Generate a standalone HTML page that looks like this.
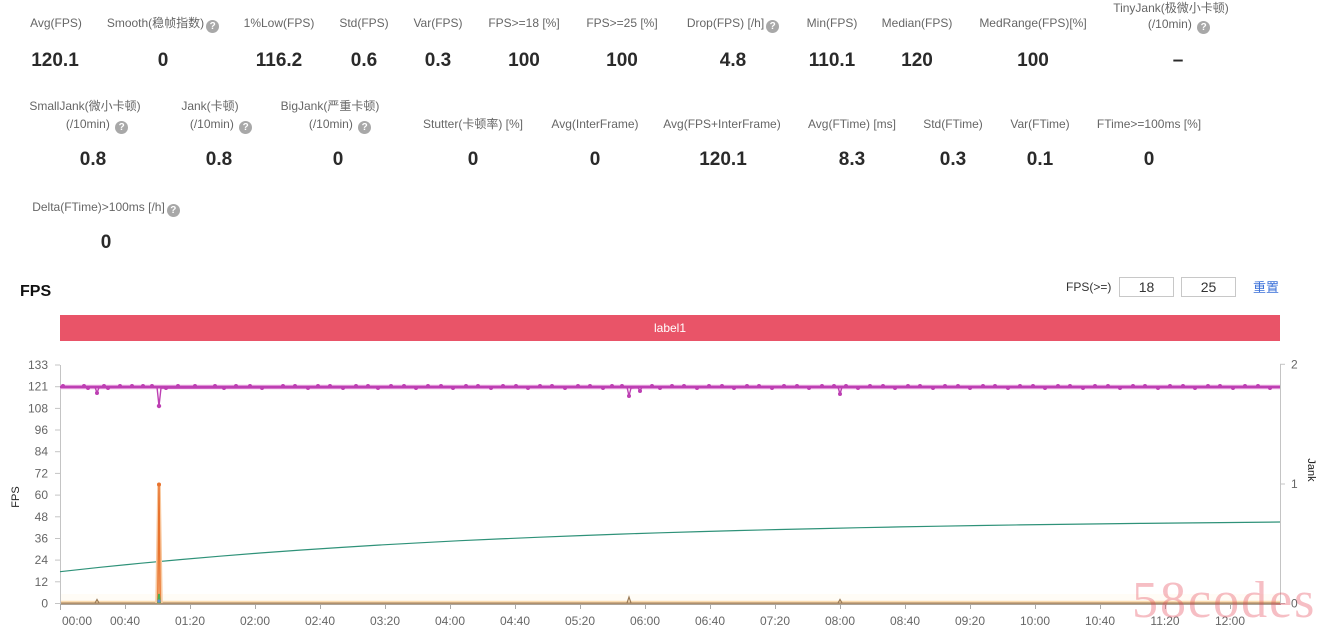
<!DOCTYPE html>
<html><head><meta charset="utf-8">
<style>
html,body{margin:0;padding:0;background:#fff;}
body{width:1331px;height:631px;position:relative;overflow:hidden;font-family:"Liberation Sans","Noto Sans CJK SC",sans-serif;}
.l{position:absolute;width:240px;margin-left:-120px;text-align:center;font-size:12px;line-height:16px;color:#666;white-space:nowrap;}
.v{position:absolute;width:200px;margin-left:-100px;text-align:center;font-size:19px;line-height:24px;color:#2a2a2a;font-weight:bold;white-space:nowrap;}
.q{display:inline-block;width:13px;height:13px;border-radius:50%;background:#a8a8a8;color:#fff;font-size:10px;line-height:13px;text-align:center;font-weight:bold;vertical-align:-2px;margin-left:2px;}
.box{position:absolute;top:277px;height:18px;width:53px;border:1px solid #c8c8c8;text-align:center;font-size:14px;line-height:18px;color:#333;}
</style></head><body>

<!-- Row 1 -->
<div class="l" style="left:56px;top:15px">Avg(FPS)</div>
<div class="l" style="left:163px;top:15px">Smooth(稳帧指数)<span class="q">?</span></div>
<div class="l" style="left:279px;top:15px">1%Low(FPS)</div>
<div class="l" style="left:364px;top:15px">Std(FPS)</div>
<div class="l" style="left:438px;top:15px">Var(FPS)</div>
<div class="l" style="left:524px;top:15px">FPS&gt;=18 [%]</div>
<div class="l" style="left:622px;top:15px">FPS&gt;=25 [%]</div>
<div class="l" style="left:733px;top:15px">Drop(FPS) [/h]<span class="q">?</span></div>
<div class="l" style="left:832px;top:15px">Min(FPS)</div>
<div class="l" style="left:917px;top:15px">Median(FPS)</div>
<div class="l" style="left:1033px;top:15px">MedRange(FPS)[%]</div>
<div class="l" style="left:1171px;top:0px">TinyJank(极微小卡顿)</div>
<div class="l" style="left:1179px;top:16px">(/10min) <span class="q">?</span></div>

<div class="v" style="left:55px;top:49px">120.1</div>
<div class="v" style="left:163px;top:49px">0</div>
<div class="v" style="left:279px;top:49px">116.2</div>
<div class="v" style="left:364px;top:49px">0.6</div>
<div class="v" style="left:438px;top:49px">0.3</div>
<div class="v" style="left:524px;top:49px">100</div>
<div class="v" style="left:622px;top:49px">100</div>
<div class="v" style="left:733px;top:49px">4.8</div>
<div class="v" style="left:832px;top:49px">110.1</div>
<div class="v" style="left:917px;top:49px">120</div>
<div class="v" style="left:1033px;top:49px">100</div>
<div class="v" style="left:1178px;top:49px">–</div>

<!-- Row 2 -->
<div class="l" style="left:85px;top:98px">SmallJank(微小卡顿)</div>
<div class="l" style="left:97px;top:116px">(/10min) <span class="q">?</span></div>
<div class="l" style="left:210px;top:98px">Jank(卡顿)</div>
<div class="l" style="left:221px;top:116px">(/10min) <span class="q">?</span></div>
<div class="l" style="left:330px;top:98px">BigJank(严重卡顿)</div>
<div class="l" style="left:340px;top:116px">(/10min) <span class="q">?</span></div>
<div class="l" style="left:473px;top:116px">Stutter(卡顿率) [%]</div>
<div class="l" style="left:595px;top:116px">Avg(InterFrame)</div>
<div class="l" style="left:722px;top:116px">Avg(FPS+InterFrame)</div>
<div class="l" style="left:852px;top:116px">Avg(FTime) [ms]</div>
<div class="l" style="left:953px;top:116px">Std(FTime)</div>
<div class="l" style="left:1040px;top:116px">Var(FTime)</div>
<div class="l" style="left:1149px;top:116px">FTime&gt;=100ms [%]</div>

<div class="v" style="left:93px;top:148px">0.8</div>
<div class="v" style="left:219px;top:148px">0.8</div>
<div class="v" style="left:338px;top:148px">0</div>
<div class="v" style="left:473px;top:148px">0</div>
<div class="v" style="left:595px;top:148px">0</div>
<div class="v" style="left:723px;top:148px">120.1</div>
<div class="v" style="left:852px;top:148px">8.3</div>
<div class="v" style="left:953px;top:148px">0.3</div>
<div class="v" style="left:1040px;top:148px">0.1</div>
<div class="v" style="left:1149px;top:148px">0</div>

<!-- Row 3 -->
<div class="l" style="left:106px;top:199px">Delta(FTime)&gt;100ms [/h]<span class="q">?</span></div>
<div class="v" style="left:106px;top:231px">0</div>

<!-- FPS title & controls -->
<div style="position:absolute;left:20px;top:282px;font-size:16px;line-height:20px;font-weight:bold;color:#111;">FPS</div>
<div style="position:absolute;left:1066px;top:280px;font-size:12px;line-height:14px;color:#333;">FPS(&gt;=)</div>
<div class="box" style="left:1119px;">18</div>
<div class="box" style="left:1181px;">25</div>
<div style="position:absolute;left:1253px;top:279px;font-size:13px;line-height:16px;color:#3a6fd8;font-family:'Noto Sans CJK SC',sans-serif;">重置</div>

<svg width="1331" height="631" style="position:absolute;left:0;top:0" xmlns="http://www.w3.org/2000/svg">
  <!-- label bar -->
  <rect x="60" y="315" width="1220" height="26" fill="#e95468"/>
  <text x="670" y="332" font-size="12" fill="#fff" text-anchor="middle" font-family="Liberation Sans, sans-serif">label1</text>

  <!-- axes -->
  <g stroke="#c4c4c4" stroke-width="1" fill="none">
    <line x1="60.5" y1="365" x2="60.5" y2="604"/>
    <line x1="1280.5" y1="364" x2="1280.5" y2="604"/>
    <line x1="60" y1="604.5" x2="1281" y2="604.5" stroke="#aaa"/>
  </g>
  <!-- left ticks -->
  <g stroke="#c4c4c4" stroke-width="1">
    <line x1="55" y1="603.5" x2="60" y2="603.5"/>
    <line x1="55" y1="581.8" x2="60" y2="581.8"/>
    <line x1="55" y1="560.1" x2="60" y2="560.1"/>
    <line x1="55" y1="538.5" x2="60" y2="538.5"/>
    <line x1="55" y1="516.8" x2="60" y2="516.8"/>
    <line x1="55" y1="495.1" x2="60" y2="495.1"/>
    <line x1="55" y1="473.4" x2="60" y2="473.4"/>
    <line x1="55" y1="451.7" x2="60" y2="451.7"/>
    <line x1="55" y1="430.0" x2="60" y2="430.0"/>
    <line x1="55" y1="408.4" x2="60" y2="408.4"/>
    <line x1="55" y1="386.7" x2="60" y2="386.7"/>
    <line x1="55" y1="365.0" x2="60" y2="365.0"/>
    <line x1="1280" y1="364.3" x2="1285" y2="364.3"/>
    <line x1="1280" y1="484" x2="1285" y2="484"/>
    <line x1="1280" y1="603.5" x2="1285" y2="603.5"/>
  </g>
  <g font-size="12" fill="#666" text-anchor="end" font-family="Liberation Sans, sans-serif">
    <text x="48" y="607.5">0</text>
    <text x="48" y="585.8">12</text>
    <text x="48" y="564.1">24</text>
    <text x="48" y="542.5">36</text>
    <text x="48" y="520.8">48</text>
    <text x="48" y="499.1">60</text>
    <text x="48" y="477.4">72</text>
    <text x="48" y="455.7">84</text>
    <text x="48" y="434.0">96</text>
    <text x="48" y="412.4">108</text>
    <text x="48" y="390.7">121</text>
    <text x="48" y="369.0">133</text>
  </g>
  <g font-size="12" fill="#666" font-family="Liberation Sans, sans-serif">
    <text x="1291" y="368.3">2</text>
    <text x="1291" y="488">1</text>
    <text x="1291" y="607.5">0</text>
  </g>
  <text transform="translate(19,497) rotate(-90)" font-size="11" fill="#222" text-anchor="middle" font-family="Liberation Sans, sans-serif">FPS</text>
  <text transform="translate(1308,470) rotate(90)" font-size="11" fill="#222" text-anchor="middle" font-family="Liberation Sans, sans-serif">Jank</text>

  <!-- x ticks -->
  <g stroke="#aaa" stroke-width="1">
    <line x1="60.5" y1="604" x2="60.5" y2="610"/>
    <line x1="125.5" y1="604" x2="125.5" y2="609"/>
    <line x1="190.5" y1="604" x2="190.5" y2="609"/>
    <line x1="255.5" y1="604" x2="255.5" y2="609"/>
    <line x1="320.5" y1="604" x2="320.5" y2="609"/>
    <line x1="385.5" y1="604" x2="385.5" y2="609"/>
    <line x1="450.5" y1="604" x2="450.5" y2="609"/>
    <line x1="515.5" y1="604" x2="515.5" y2="609"/>
    <line x1="580.5" y1="604" x2="580.5" y2="609"/>
    <line x1="645.5" y1="604" x2="645.5" y2="609"/>
    <line x1="710.5" y1="604" x2="710.5" y2="609"/>
    <line x1="775.5" y1="604" x2="775.5" y2="609"/>
    <line x1="840.5" y1="604" x2="840.5" y2="609"/>
    <line x1="905.5" y1="604" x2="905.5" y2="609"/>
    <line x1="970.5" y1="604" x2="970.5" y2="609"/>
    <line x1="1035.5" y1="604" x2="1035.5" y2="609"/>
    <line x1="1100.5" y1="604" x2="1100.5" y2="609"/>
    <line x1="1165.5" y1="604" x2="1165.5" y2="609"/>
    <line x1="1230.5" y1="604" x2="1230.5" y2="609"/>
  </g>
  <g font-size="12" fill="#666" text-anchor="middle" font-family="Liberation Sans, sans-serif">
    <text x="77" y="625">00:00</text>
    <text x="125" y="625">00:40</text>
    <text x="190" y="625">01:20</text>
    <text x="255" y="625">02:00</text>
    <text x="320" y="625">02:40</text>
    <text x="385" y="625">03:20</text>
    <text x="450" y="625">04:00</text>
    <text x="515" y="625">04:40</text>
    <text x="580" y="625">05:20</text>
    <text x="645" y="625">06:00</text>
    <text x="710" y="625">06:40</text>
    <text x="775" y="625">07:20</text>
    <text x="840" y="625">08:00</text>
    <text x="905" y="625">08:40</text>
    <text x="970" y="625">09:20</text>
    <text x="1035" y="625">10:00</text>
    <text x="1100" y="625">10:40</text>
    <text x="1165" y="625">11:20</text>
    <text x="1230" y="625">12:00</text>
  </g>

  <!-- teal curve -->
  <path d="M60 571.7 L100 567.3 L140 563.3 L180 559.6 L220 556.2 L260 553.0 L300 550.1 L340 547.5 L380 545.0 L420 542.8 L460 540.7 L500 538.9 L540 537.2 L580 535.6 L620 534.1 L660 532.8 L700 531.6 L740 530.5 L780 529.5 L820 528.6 L860 527.7 L900 526.9 L940 526.2 L980 525.5 L1020 524.9 L1060 524.4 L1100 523.9 L1140 523.4 L1180 523.0 L1220 522.6 L1280 522.0" fill="none" stroke="#2f9279" stroke-width="1.2"/>

  <!-- bottom lines -->
  <rect x="61" y="594" width="1219" height="8" fill="#fffcf6"/>
  <line x1="61" y1="601.6" x2="1280" y2="601.6" stroke="#fbdcb0" stroke-width="1.8"/>
  <line x1="61" y1="603.3" x2="1280" y2="603.3" stroke="#b0906c" stroke-width="1.8"/>
  <path d="M95 603 L97 599.5 L99 603 M627 603 L629 597 L631 603 M838 603 L840 599.5 L842 603" fill="none" stroke="#9a7a55" stroke-width="1.2"/>

  <!-- orange spike -->
  <path d="M157 603 L159 484 L161 603" fill="none" stroke="#f8c9a0" stroke-width="3.5"/>
  <path d="M157.8 603 L159 484 L160.2 603" fill="none" stroke="#e8732e" stroke-width="1.4"/>
  <circle cx="159" cy="484.5" r="2" fill="#e8732e"/>
  <!-- green spike -->
  <path d="M158 603 L159 594 L160 603" fill="none" stroke="#4caf50" stroke-width="1.8"/>
  <circle cx="159" cy="601" r="1.6" fill="#5b8fd8"/>

  <!-- purple FPS line -->
  <line x1="60" y1="387" x2="1280" y2="387" stroke="#e9a8e0" stroke-width="4.5"/>
  <path d="M60 387 L95 387 L97 393 L99 387.5 L157 387 L159 406 L161 388 L627 387 L629 396 L631 388 L638 387.5 L640 391 L642 387 L838 387 L840 394 L842 387 L1280 387" fill="none" stroke="#bd3fb3" stroke-width="1.4" stroke-linejoin="round"/>
  <line x1="60" y1="387" x2="1280" y2="387" stroke="#bd3fb3" stroke-width="2.6"/>
  <g fill="#bd3fb3">
    <circle cx="97" cy="393" r="2"/><circle cx="159" cy="406" r="2.2"/><circle cx="629" cy="396" r="2"/><circle cx="640" cy="391" r="2"/><circle cx="840" cy="394" r="2"/>
    <circle cx="63" cy="386" r="2"/><circle cx="84" cy="386" r="2"/><circle cx="88" cy="388" r="2"/><circle cx="104" cy="386" r="2"/><circle cx="108" cy="388" r="2"/>
    <circle cx="120" cy="386" r="2"/><circle cx="132" cy="386" r="2"/><circle cx="143" cy="386" r="2"/><circle cx="152" cy="386" r="2"/><circle cx="166" cy="388" r="2"/>
    <circle cx="178" cy="386" r="2"/><circle cx="195" cy="386" r="2"/><circle cx="215" cy="386" r="2"/><circle cx="224" cy="388" r="2"/><circle cx="236" cy="386" r="2"/>
    <circle cx="250" cy="386" r="2"/><circle cx="262" cy="388" r="2"/><circle cx="283" cy="386" r="2"/><circle cx="295" cy="386" r="2"/><circle cx="308" cy="388" r="2"/>
    <circle cx="318" cy="386" r="2"/><circle cx="330" cy="386" r="2"/><circle cx="343" cy="388" r="2"/><circle cx="356" cy="386" r="2"/><circle cx="368" cy="386" r="2"/>
    <circle cx="378" cy="388" r="2"/><circle cx="391" cy="386" r="2"/><circle cx="404" cy="386" r="2"/><circle cx="416" cy="388" r="2"/><circle cx="428" cy="386" r="2"/>
    <circle cx="441" cy="386" r="2"/><circle cx="453" cy="388" r="2"/><circle cx="466" cy="386" r="2"/><circle cx="478" cy="386" r="2"/><circle cx="491" cy="388" r="2"/>
    <circle cx="503" cy="386" r="2"/><circle cx="516" cy="386" r="2"/><circle cx="528" cy="388" r="2"/><circle cx="540" cy="386" r="2"/><circle cx="552" cy="386" r="2"/>
    <circle cx="565" cy="388" r="2"/><circle cx="578" cy="386" r="2"/><circle cx="590" cy="386" r="2"/><circle cx="603" cy="388" r="2"/><circle cx="612" cy="386" r="2"/>
    <circle cx="622" cy="386" r="2"/><circle cx="652" cy="386" r="2"/><circle cx="660" cy="388" r="2"/><circle cx="672" cy="386" r="2"/><circle cx="684" cy="386" r="2"/>
    <circle cx="697" cy="388" r="2"/><circle cx="709" cy="386" r="2"/><circle cx="722" cy="386" r="2"/><circle cx="734" cy="388" r="2"/><circle cx="747" cy="386" r="2"/>
    <circle cx="759" cy="386" r="2"/><circle cx="772" cy="388" r="2"/><circle cx="784" cy="386" r="2"/><circle cx="797" cy="386" r="2"/><circle cx="809" cy="388" r="2"/>
    <circle cx="822" cy="386" r="2"/><circle cx="834" cy="386" r="2"/><circle cx="846" cy="386" r="2"/><circle cx="858" cy="388" r="2"/><circle cx="870" cy="386" r="2"/>
    <circle cx="883" cy="386" r="2"/><circle cx="895" cy="388" r="2"/><circle cx="908" cy="386" r="2"/><circle cx="920" cy="386" r="2"/><circle cx="933" cy="388" r="2"/>
    <circle cx="945" cy="386" r="2"/><circle cx="958" cy="386" r="2"/><circle cx="970" cy="388" r="2"/><circle cx="983" cy="386" r="2"/><circle cx="995" cy="386" r="2"/>
    <circle cx="1008" cy="388" r="2"/><circle cx="1020" cy="386" r="2"/><circle cx="1033" cy="386" r="2"/><circle cx="1045" cy="388" r="2"/><circle cx="1058" cy="386" r="2"/>
    <circle cx="1070" cy="386" r="2"/><circle cx="1083" cy="388" r="2"/><circle cx="1095" cy="386" r="2"/><circle cx="1108" cy="386" r="2"/><circle cx="1120" cy="388" r="2"/>
    <circle cx="1133" cy="386" r="2"/><circle cx="1145" cy="386" r="2"/><circle cx="1158" cy="388" r="2"/><circle cx="1170" cy="386" r="2"/><circle cx="1183" cy="386" r="2"/>
    <circle cx="1195" cy="388" r="2"/><circle cx="1208" cy="386" r="2"/><circle cx="1220" cy="386" r="2"/><circle cx="1233" cy="388" r="2"/><circle cx="1245" cy="386" r="2"/>
    <circle cx="1258" cy="386" r="2"/><circle cx="1270" cy="388" r="2"/>
  </g>

  <!-- watermark -->
  <text x="1132" y="617" font-size="52" letter-spacing="2" fill="rgba(228,70,85,0.35)" font-family="Liberation Serif, serif">58codes</text>
</svg>
</body></html>
